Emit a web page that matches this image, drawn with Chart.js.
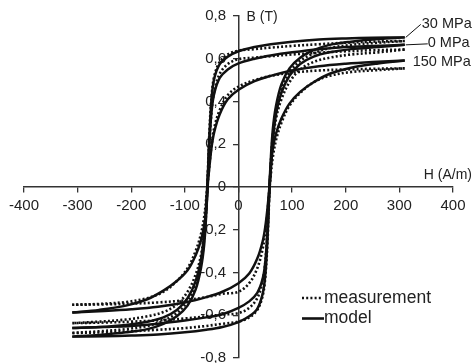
<!DOCTYPE html>
<html>
<head>
<meta charset="utf-8">
<script src="https://cdn.jsdelivr.net/npm/chart.js@4/dist/chart.umd.min.js"></script>
<style>
  html, body { margin: 0; padding: 0; background: #fff; }
  #wrap { width: 474px; height: 363px; position: relative; }
</style>
</head>
<body>
<div id="wrap"><canvas id="loopChart"></canvas></div>
<script>
// H values (A/m) along each branch
const hDesc = [310, 250, 200, 150, 100, 60, 30, 0, -20, -35, -45, -50, -54, -57, -60, -64, -70, -80, -95, -115, -140, -170, -210, -260, -310];
const hAsc = [-310, -250, -200, -150, -100, -60, -30, 0, 20, 35, 45, 50, 54, 57, 60, 64, 70, 80, 95, 115, 140, 170, 210, 260, 310];

// B (T) - model, descending / ascending branches
const b30ModelDesc = [0.70, 0.698, 0.695, 0.69, 0.68, 0.668, 0.655, 0.635, 0.61, 0.575, 0.51, 0.42, 0.25, 0.05, -0.12, -0.27, -0.38, -0.48, -0.555, -0.605, -0.64, -0.665, -0.68, -0.692, -0.70];
const b30ModelAsc = [-0.70, -0.698, -0.695, -0.69, -0.68, -0.668, -0.655, -0.632, -0.605, -0.57, -0.50, -0.41, -0.24, -0.04, 0.12, 0.27, 0.38, 0.48, 0.555, 0.605, 0.64, 0.665, 0.68, 0.692, 0.70];
const b0ModelDesc = [0.665, 0.66, 0.655, 0.645, 0.63, 0.615, 0.60, 0.578, 0.55, 0.51, 0.44, 0.36, 0.22, 0.06, -0.08, -0.22, -0.34, -0.44, -0.52, -0.575, -0.61, -0.63, -0.645, -0.655, -0.66];
const b0ModelAsc = [-0.66, -0.655, -0.65, -0.64, -0.625, -0.61, -0.595, -0.565, -0.535, -0.495, -0.43, -0.35, -0.21, -0.05, 0.08, 0.22, 0.34, 0.44, 0.52, 0.575, 0.61, 0.63, 0.645, 0.655, 0.665];
const b150ModelDesc = [0.592, 0.585, 0.577, 0.565, 0.545, 0.52, 0.495, 0.455, 0.41, 0.34, 0.26, 0.19, 0.10, 0.02, -0.10, -0.18, -0.25, -0.32, -0.39, -0.44, -0.485, -0.525, -0.555, -0.575, -0.587];
const b150ModelAsc = [-0.587, -0.58, -0.572, -0.56, -0.54, -0.515, -0.49, -0.45, -0.405, -0.335, -0.255, -0.185, -0.10, -0.02, 0.09, 0.18, 0.25, 0.32, 0.39, 0.445, 0.49, 0.53, 0.558, 0.578, 0.592];

// B (T) - measurement
const b30MeasDesc = [0.683, 0.68, 0.675, 0.668, 0.66, 0.652, 0.645, 0.638, 0.62, 0.585, 0.52, 0.43, 0.27, 0.08, -0.10, -0.24, -0.36, -0.46, -0.535, -0.59, -0.625, -0.65, -0.665, -0.675, -0.683];
const b30MeasAsc = [-0.683, -0.68, -0.675, -0.668, -0.66, -0.65, -0.64, -0.63, -0.61, -0.575, -0.51, -0.42, -0.26, -0.07, 0.10, 0.24, 0.36, 0.46, 0.535, 0.59, 0.625, 0.65, 0.665, 0.675, 0.683];
const b0MeasDesc = [0.643, 0.64, 0.635, 0.628, 0.62, 0.612, 0.605, 0.598, 0.575, 0.53, 0.45, 0.36, 0.22, 0.06, -0.08, -0.21, -0.32, -0.41, -0.49, -0.55, -0.585, -0.605, -0.62, -0.63, -0.637];
const b0MeasAsc = [-0.637, -0.634, -0.63, -0.624, -0.615, -0.605, -0.597, -0.59, -0.565, -0.52, -0.44, -0.35, -0.21, -0.05, 0.08, 0.21, 0.32, 0.41, 0.49, 0.55, 0.585, 0.605, 0.62, 0.63, 0.643];
const b150MeasDesc = [0.555, 0.553, 0.55, 0.545, 0.535, 0.52, 0.50, 0.47, 0.43, 0.36, 0.28, 0.20, 0.11, 0.03, -0.05, -0.14, -0.22, -0.30, -0.38, -0.44, -0.49, -0.52, -0.538, -0.547, -0.551];
const b150MeasAsc = [-0.551, -0.549, -0.546, -0.54, -0.53, -0.515, -0.50, -0.49, -0.45, -0.38, -0.29, -0.21, -0.12, -0.03, 0.05, 0.14, 0.22, 0.30, 0.38, 0.44, 0.49, 0.52, 0.538, 0.547, 0.555];

const curveLabels = ["30 MPa", "0 MPa", "150 MPa"];
const legendLabels = ["measurement", "model"];

const INK = "#111";
const TEXT = "#222";
const FONT = "'Liberation Sans', Arial, sans-serif";

function pts(hs, bs) {
  return hs.map((h, i) => ({ x: h, y: bs[i] }));
}

function line(hs, bs, dotted) {
  return {
    data: pts(hs, bs),
    showLine: true,
    borderColor: INK,
    borderWidth: dotted ? 2.6 : 2.5,
    borderDash: dotted ? [2, 2.2] : [],
    pointRadius: 0,
    tension: 0.35,
    fill: false,
  };
}

const datasets = [
  line(hDesc, b30MeasDesc, true),
  line(hAsc, b30MeasAsc, true),
  line(hDesc, b0MeasDesc, true),
  line(hAsc, b0MeasAsc, true),
  line(hDesc, b150MeasDesc, true),
  line(hAsc, b150MeasAsc, true),
  line(hDesc, b30ModelDesc, false),
  line(hAsc, b30ModelAsc, false),
  line(hDesc, b0ModelDesc, false),
  line(hAsc, b0ModelAsc, false),
  line(hDesc, b150ModelDesc, false),
  line(hAsc, b150ModelAsc, false),
];

// axis titles, curve labels and legend drawn on top
const extras = {
  id: "extras",
  afterDraw(chart) {
    const ctx = chart.ctx;
    const xs = chart.scales.x;
    const ys = chart.scales.y;
    ctx.save();
    ctx.fillStyle = TEXT;
    ctx.strokeStyle = INK;
    ctx.textBaseline = "middle";
    ctx.font = "14px " + FONT;
    ctx.textAlign = "left";
    ctx.fillText("B (T)", xs.getPixelForValue(0) + 8, ys.getPixelForValue(0.8) + 1);
    ctx.textAlign = "right";
    ctx.fillText("H (A/m)", 472, ys.getPixelForValue(0) - 12);

    // curve labels with leader lines
    ctx.textAlign = "left";
    ctx.font = "14.5px " + FONT;
    const endX = xs.getPixelForValue(310);
    ctx.lineWidth = 1;
    ctx.beginPath();
    ctx.moveTo(endX + 1, ys.getPixelForValue(0.70));
    ctx.lineTo(endX + 16, ys.getPixelForValue(0.70) - 13);
    ctx.moveTo(endX + 1, ys.getPixelForValue(0.665));
    ctx.lineTo(endX + 23, ys.getPixelForValue(0.665) - 1);
    ctx.stroke();
    ctx.fillText(curveLabels[0], endX + 17, 24);
    ctx.fillText(curveLabels[1], endX + 23, 43);
    ctx.fillText(curveLabels[2], endX + 8, 62);

    // legend
    ctx.font = "17.5px " + FONT;
    ctx.lineWidth = 2.6;
    ctx.setLineDash([2, 2.2]);
    ctx.beginPath();
    ctx.moveTo(302, 298);
    ctx.lineTo(322, 298);
    ctx.stroke();
    ctx.setLineDash([]);
    ctx.beginPath();
    ctx.moveTo(302, 318.5);
    ctx.lineTo(324, 318.5);
    ctx.stroke();
    ctx.fillText(legendLabels[0], 324, 298);
    ctx.fillText(legendLabels[1], 324, 318);
    ctx.restore();
  },
};

// end labels may sit on the canvas edge, so no extra padding for them
function noEdgePadding(scale) {
  scale.paddingTop = 0;
  scale.paddingBottom = 0;
  scale.paddingLeft = 0;
  scale.paddingRight = 0;
}

new Chart(document.getElementById("loopChart"), {
  type: "scatter",
  data: { datasets: datasets },
  options: {
    responsive: true,
    maintainAspectRatio: false,
    animation: false,
    layout: { padding: { left: 24, right: 21, top: 16, bottom: 5 } },
    plugins: { legend: { display: false }, tooltip: { enabled: false } },
    scales: {
      x: {
        type: "linear",
        position: { y: 0 },
        min: -400,
        max: 400,
        afterFit: noEdgePadding,
        ticks: {
          stepSize: 100,
          color: TEXT,
          font: { size: 15, family: FONT },
          padding: 5,
          maxRotation: 0,
        },
        grid: { drawOnChartArea: false, drawTicks: true, tickLength: 5, color: "#333", lineWidth: 1.3 },
        border: { display: true, color: "#333", width: 1.5 },
      },
      y: {
        type: "linear",
        position: { x: 0 },
        min: -0.8,
        max: 0.8,
        afterFit: noEdgePadding,
        ticks: {
          stepSize: 0.2,
          color: TEXT,
          font: { size: 15, family: FONT },
          // labels are right-aligned on the axis line; trailing spaces push them left
          callback: (v) => {
            const r = Math.round(v * 10) / 10;
            const s = r === 0 ? "0" : r.toFixed(1).replace(".", ",");
            return s + "   ";
          },
        },
        grid: { drawOnChartArea: false, drawTicks: true, tickLength: 5, color: "#333", lineWidth: 1.3 },
        border: { display: true, color: "#333", width: 1.5 },
      },
    },
  },
  plugins: [extras],
});
</script>
</body>
</html>
